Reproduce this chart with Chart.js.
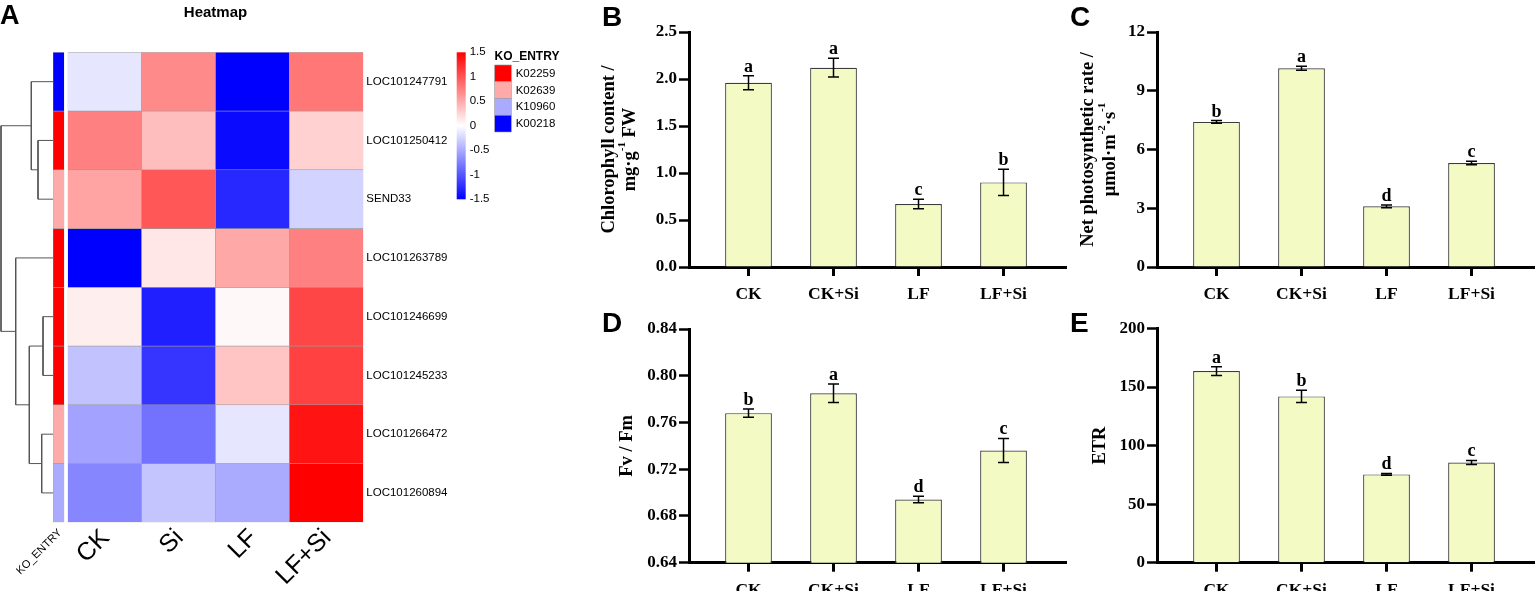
<!DOCTYPE html>
<html>
<head>
<meta charset="utf-8">
<script src="https://cdn.jsdelivr.net/npm/chart.js@4.4.1/dist/chart.umd.min.js"></script>
<style>
html, body { margin: 0; padding: 0; background: #fff; }
body { width: 1536px; height: 591px; position: relative; overflow: hidden; }
canvas { position: absolute; }
</style>
</head>
<body>
<canvas id="dendro" width="540" height="591" style="left:0;top:0"></canvas>
<canvas id="ko" width="540" height="591" style="left:0;top:0"></canvas>
<canvas id="heat" width="540" height="591" style="left:0;top:0"></canvas>
<canvas id="colorKey" width="560" height="591" style="left:0;top:0"></canvas>
<canvas id="chlB" width="530" height="300" style="left:540px;top:0"></canvas>
<canvas id="pnC" width="530" height="300" style="left:1006px;top:0"></canvas>
<canvas id="fvD" width="530" height="295" style="left:540px;top:296px"></canvas>
<canvas id="etrE" width="530" height="295" style="left:1006px;top:296px"></canvas>
<script>

// ---------- data ----------
const groups = ["CK", "CK+Si", "LF", "LF+Si"];

const chlorophyll = [1.96, 2.12, 0.67, 0.90];
const chlorophyllErr = [0.075, 0.10, 0.05, 0.14];
const chlorophyllSig = ["a", "a", "c", "b"];

const netPhoto = [7.41, 10.15, 3.10, 5.31];
const netPhotoErr = [0.07, 0.10, 0.07, 0.085];
const netPhotoSig = ["b", "a", "d", "c"];

const fvFm = [0.768, 0.785, 0.694, 0.736];
const fvFmErr = [0.0035, 0.008, 0.0028, 0.0103];
const fvFmSig = ["b", "a", "d", "c"];

const etr = [163.6, 142.0, 75.4, 85.6];
const etrErr = [3.7, 5.3, 0.8, 1.7];
const etrSig = ["a", "b", "d", "c"];

const heatCols = ["CK", "Si", "LF", "LF+Si"];
const genes = [
    "LOC101247791", "LOC101250412", "SEND33", "LOC101263789",
    "LOC101246699", "LOC101245233", "LOC101266472", "LOC101260894"
];
const heatValues = [
    [-0.15, 0.69, -1.50, 0.80],
    [0.75, 0.38, -1.44, 0.27],
    [0.54, 0.99, -1.27, -0.26],
    [-1.50, 0.14, 0.51, 0.75],
    [0.10, -1.32, 0.04, 1.09],
    [-0.36, -1.19, 0.35, 1.12],
    [-0.54, -0.83, -0.15, 1.39],
    [-0.71, -0.35, -0.50, 1.50]
];
const geneKo = ["K00218", "K02259", "K02639", "K02259", "K02259", "K02259", "K02639", "K10960"];
const koEntries = ["K02259", "K02639", "K10960", "K00218"];
const koColors = ["#FF0000", "#FFAAAA", "#AAAAFF", "#0000FF"];

// hclust style: negative = leaf (row order), positive = earlier merge
const dendroMerge = [[-2, -3], [-1, 1], [-5, -6], [-7, -8], [3, 4], [-4, 5], [2, 6]];
const dendroHeight = [15, 21.7, 10, 11.3, 23.7, 37.3, 52];

const colorTicks = [1.5, 1, 0.5, 0, -0.5, -1, -1.5];

// ---------- helpers ----------
const SANS = "\"Liberation Sans\", Arial, Helvetica, sans-serif";
const SERIF = "\"Liberation Serif\", \"Times New Roman\", serif";

Chart.defaults.animation = false;
Chart.defaults.events = [];
Chart.defaults.plugins.legend.display = false;
Chart.defaults.plugins.tooltip.enabled = false;
Chart.defaults.color = "#000";

function heatColor(v) {
    const t = Math.max(-1, Math.min(1, v / 1.5));
    if (t >= 0) {
        const c = Math.round(255 * (1 - t));
        return "rgb(255," + c + "," + c + ")";
    }
    const c = Math.round(255 * (1 + t));
    return "rgb(" + c + "," + c + ",255)";
}

function dendroLinks() {
    const nodeY = [];
    const nodeH = [];
    const pos = (id) => id < 0
        ? { y: -id - 0.5, h: 0 }
        : { y: nodeY[id - 1], h: nodeH[id - 1] };
    const links = [];
    dendroMerge.forEach(([a, b], i) => {
        const pa = pos(a);
        const pb = pos(b);
        const h = dendroHeight[i];
        links.push([
            { x: pa.h, y: pa.y },
            { x: h, y: pa.y },
            { x: h, y: pb.y },
            { x: pb.h, y: pb.y }
        ]);
        nodeY.push((pa.y + pb.y) / 2);
        nodeH.push(h);
    });
    return links;
}

function fixWidth(w) {
    return (scale) => { scale.width = w; };
}

function fixHeight(h) {
    return (scale) => { scale.height = h; };
}

// rotated column labels, end of text at the column centre
function rotatedLabels(labels, size, dx, y) {
    return {
        id: "rotLabels",
        afterDraw(chart) {
            const ctx = chart.ctx;
            const xs = chart.scales.x;
            ctx.save();
            ctx.fillStyle = "#000";
            ctx.font = size + "px " + SANS;
            ctx.textAlign = "right";
            ctx.textBaseline = "middle";
            labels.forEach((l, i) => {
                ctx.save();
                ctx.translate(xs.getPixelForValue(i) + dx, y);
                ctx.rotate(-Math.PI / 4);
                ctx.fillText(l, 0, 0);
                ctx.restore();
            });
            ctx.restore();
        }
    };
}

// ---------- A: dendrogram ----------
new Chart(document.getElementById("dendro"), {
    type: "scatter",
    data: {
        datasets: dendroLinks().map((pts) => ({
            data: pts,
            showLine: true,
            borderColor: "#555",
            borderWidth: 1,
            pointRadius: 0,
            clip: false
        }))
    },
    options: {
        responsive: false,
        layout: { padding: { left: 1, right: 487, top: 52.3, bottom: 68.7 } },
        scales: {
            x: { type: "linear", min: 0, max: 52, reverse: true, display: false },
            y: { type: "linear", min: 0, max: 8, reverse: true, display: false }
        }
    }
});

// ---------- A: KO_ENTRY annotation column ----------
new Chart(document.getElementById("ko"), {
    type: "bar",
    data: {
        labels: ["KO_ENTRY"],
        datasets: genes.map((g, r) => ({
            data: [[r, r + 1]],
            backgroundColor: koColors[koEntries.indexOf(geneKo[r])],
            borderColor: "#9a9a9a",
            borderWidth: 0.6,
            borderSkipped: false,
            grouped: false,
            barPercentage: 1,
            categoryPercentage: 1
        }))
    },
    options: {
        responsive: false,
        layout: { padding: { left: 53, right: 475.7, top: 52.3, bottom: 68.7 } },
        scales: {
            x: { display: false },
            y: { type: "linear", min: 0, max: 8, reverse: true, display: false }
        }
    },
    plugins: [rotatedLabels(["KO_ENTRY"], 11, 1.5, 531)]
});

// ---------- A: heatmap ----------
const heatTitle = {
    id: "heatTitle",
    afterDraw(chart) {
        const ctx = chart.ctx;
        ctx.save();
        ctx.fillStyle = "#000";
        ctx.textBaseline = "alphabetic";
        ctx.textAlign = "left";
        ctx.font = "bold 27px " + SANS;
        ctx.fillText("A", 0, 24);
        ctx.textAlign = "center";
        ctx.textBaseline = "middle";
        ctx.font = "bold 15px " + SANS;
        ctx.fillText("Heatmap", 215.5, 12.5);
        ctx.restore();
    }
};

new Chart(document.getElementById("heat"), {
    type: "bar",
    data: {
        labels: heatCols,
        datasets: genes.map((g, r) => ({
            label: g,
            data: heatCols.map(() => [r, r + 1]),
            backgroundColor: heatValues[r].map(heatColor),
            borderColor: "#9a9a9a",
            borderWidth: 0.6,
            borderSkipped: false,
            grouped: false,
            barPercentage: 1,
            categoryPercentage: 1
        }))
    },
    options: {
        responsive: false,
        layout: { padding: { left: 67.7, right: 0, top: 52.3, bottom: 68.7 } },
        scales: {
            x: { display: false },
            y: { type: "linear", min: 0, max: 8, reverse: true, display: false },
            yGene: {
                type: "category",
                labels: genes,
                position: "right",
                offset: true,
                grid: { display: false, drawTicks: false },
                border: { display: false },
                ticks: { padding: 3, font: { family: SANS, size: 11.5 } },
                afterFit: fixWidth(176.7)
            }
        }
    },
    plugins: [heatTitle, rotatedLabels(heatCols, 25, 1, 534)]
});

// ---------- A: colour key and KO legend ----------
const keyDraw = {
    id: "keyDraw",
    beforeDatasetsDraw(chart) {
        const ctx = chart.ctx;
        const a = chart.chartArea;
        const ys = chart.scales.y;
        const top = ys.getPixelForValue(colorTicks[0]);
        const bot = ys.getPixelForValue(colorTicks[colorTicks.length - 1]);
        const g = ctx.createLinearGradient(0, bot, 0, top);
        g.addColorStop(0, heatColor(colorTicks[colorTicks.length - 1]));
        g.addColorStop(0.5, heatColor(0));
        g.addColorStop(1, heatColor(colorTicks[0]));
        ctx.save();
        ctx.fillStyle = g;
        ctx.fillRect(a.left, top, a.right - a.left, bot - top);
        ctx.fillStyle = "#000";
        ctx.font = "11.5px " + SANS;
        ctx.textAlign = "left";
        ctx.textBaseline = "middle";
        colorTicks.forEach((v) => ctx.fillText(String(v), a.right + 4, ys.getPixelForValue(v)));
        ctx.restore();
    },
    afterDraw(chart) {
        const ctx = chart.ctx;
        ctx.save();
        ctx.fillStyle = "#000";
        ctx.textAlign = "left";
        ctx.textBaseline = "middle";
        ctx.font = "bold 12px " + SANS;
        ctx.fillText("KO_ENTRY", 494.5, 57);
        ctx.font = "11.5px " + SANS;
        koEntries.forEach((k, i) => {
            const y = 65 + i * 16.75;
            ctx.fillStyle = koColors[i];
            ctx.fillRect(494.7, y, 16.6, 16.75);
            ctx.strokeStyle = "#9a9a9a";
            ctx.lineWidth = 0.6;
            ctx.strokeRect(494.7, y, 16.6, 16.75);
            ctx.fillStyle = "#000";
            ctx.fillText(k, 515.7, y + 8.6);
        });
        ctx.restore();
    }
};

new Chart(document.getElementById("colorKey"), {
    type: "bar",
    data: {
        labels: ["key"],
        datasets: [{
            data: [[colorTicks[colorTicks.length - 1], colorTicks[0]]],
            backgroundColor: "rgba(0,0,0,0)",
            borderWidth: 0,
            barPercentage: 1,
            categoryPercentage: 1
        }]
    },
    options: {
        responsive: false,
        layout: { padding: { left: 456.7, right: 94.3, top: 52.3, bottom: 391.7 } },
        scales: {
            x: { display: false },
            y: { type: "linear", min: -1.5, max: 1.5, display: false }
        }
    },
    plugins: [keyDraw]
});

// ---------- B-E: bar panels ----------
function drawRich(ctx, parts, cx, cy, size) {
    const big = "bold " + size + "px " + SERIF;
    const small = "bold " + Math.round(size * 0.62) + "px " + SERIF;
    ctx.save();
    ctx.translate(cx, cy);
    ctx.rotate(-Math.PI / 2);
    ctx.textAlign = "left";
    ctx.textBaseline = "middle";
    let w = 0;
    parts.forEach((p) => {
        ctx.font = p.sup ? small : big;
        w += ctx.measureText(p.t).width;
    });
    let x = -w / 2;
    parts.forEach((p) => {
        ctx.font = p.sup ? small : big;
        ctx.fillText(p.t, x, p.sup ? -size * 0.4 : 0);
        x += ctx.measureText(p.t).width;
    });
    ctx.restore();
}

const barExtras = {
    id: "barExtras",
    afterDatasetsDraw(chart, args, o) {
        const ctx = chart.ctx;
        const ys = chart.scales.y;
        const meta = chart.getDatasetMeta(0);
        ctx.save();
        ctx.strokeStyle = "#000";
        ctx.lineWidth = 1.5;
        ctx.fillStyle = "#000";
        ctx.textAlign = "center";
        ctx.textBaseline = "alphabetic";
        ctx.font = "bold 18px " + SERIF;
        meta.data.forEach((bar, i) => {
            const top = ys.getPixelForValue(o.values[i] + o.errors[i]);
            const bot = ys.getPixelForValue(o.values[i] - o.errors[i]);
            ctx.beginPath();
            ctx.moveTo(bar.x, top);
            ctx.lineTo(bar.x, bot);
            ctx.moveTo(bar.x - 5.5, top);
            ctx.lineTo(bar.x + 5.5, top);
            ctx.moveTo(bar.x - 5.5, bot);
            ctx.lineTo(bar.x + 5.5, bot);
            ctx.stroke();
            ctx.fillText(o.letters[i], bar.x, top - 4);
        });
        ctx.restore();
    },
    afterDraw(chart, args, o) {
        const ctx = chart.ctx;
        const a = chart.chartArea;
        ctx.save();
        ctx.fillStyle = "#000";
        o.titles.forEach((t) => drawRich(ctx, t.parts, t.x, (a.top + a.bottom) / 2, 18.5));
        ctx.textAlign = "left";
        ctx.textBaseline = "alphabetic";
        ctx.font = "bold 28px " + SANS;
        ctx.fillText(o.panel, o.panelX, o.panelY);
        ctx.restore();
    }
};

function barPanel(id, cfg) {

    const canvas = document.getElementById(id);

    new Chart(canvas, {

        type: "bar",

        data: {
            datasets: [{
                data: cfg.values.map((v, i) => ({ x: i, y: v })),
                backgroundColor: "#F3FAC3",
                borderColor: "#3c3c3c",
                borderWidth: 1.2,
                barPercentage: 0.55,
                categoryPercentage: 1
            }]
        },

        options: {
            responsive: false,
            layout: {
                padding: { left: 0, right: canvas.width - cfg.area.right, top: cfg.area.top, bottom: 0 }
            },
            plugins: {
                barExtras: {
                    values: cfg.values,
                    errors: cfg.errors,
                    letters: cfg.letters,
                    titles: cfg.titles,
                    panel: cfg.panel,
                    panelX: cfg.panelX,
                    panelY: cfg.panelY
                }
            },
            scales: {
                x: {
                    type: "linear",
                    min: -0.7,
                    max: 3.735,
                    offset: false,
                    grid: {
                        offset: false,
                        drawOnChartArea: false,
                        tickLength: 9,
                        tickWidth: 3,
                        tickColor: "#000"
                    },
                    border: { width: 3, color: "#000" },
                    afterBuildTicks: (scale) => {
                        scale.ticks = groups.map((g, i) => ({ value: i }));
                    },
                    ticks: {
                        padding: 8,
                        font: { family: SERIF, size: 17.5, weight: "bold" },
                        callback: (v) => groups[v]
                    },
                    afterFit: fixHeight(canvas.height - cfg.area.bottom)
                },
                y: {
                    type: "linear",
                    min: cfg.min,
                    max: cfg.max,
                    grid: {
                        drawOnChartArea: false,
                        tickLength: 10,
                        tickWidth: 2.5,
                        tickColor: "#000"
                    },
                    border: { width: 3, color: "#000" },
                    afterBuildTicks: (scale) => {
                        const t = [];
                        for (let v = cfg.min; v <= cfg.max + cfg.step / 2; v += cfg.step) {
                            t.push({ value: +v.toFixed(6) });
                        }
                        scale.ticks = t;
                    },
                    ticks: {
                        padding: 2,
                        font: { family: SERIF, size: 17, weight: "bold" },
                        callback: (v) => v.toFixed(cfg.decimals)
                    },
                    afterFit: fixWidth(cfg.area.left)
                }
            }
        },

        plugins: [barExtras]
    });
}

barPanel("chlB", {
    values: chlorophyll, errors: chlorophyllErr, letters: chlorophyllSig,
    min: 0, max: 2.5, step: 0.5, decimals: 1,
    area: { left: 149, right: 526, top: 32, bottom: 267 },
    titles: [
        { x: 69, parts: [{ t: "Chlorophyll content /" }] },
        { x: 90, parts: [{ t: "mg·g" }, { t: "-1", sup: true }, { t: " FW" }] }
    ],
    panel: "B", panelX: 62, panelY: 26
});

barPanel("pnC", {
    values: netPhoto, errors: netPhotoErr, letters: netPhotoSig,
    min: 0, max: 12, step: 3, decimals: 0,
    area: { left: 151, right: 528, top: 32, bottom: 267 },
    titles: [
        { x: 82, parts: [{ t: "Net photosynthetic rate /" }] },
        { x: 104, parts: [{ t: "μmol·m" }, { t: "-2", sup: true }, { t: "·s" }, { t: "-1", sup: true }] }
    ],
    panel: "C", panelX: 64, panelY: 26
});

barPanel("fvD", {
    values: fvFm, errors: fvFmErr, letters: fvFmSig,
    min: 0.64, max: 0.84, step: 0.04, decimals: 2,
    area: { left: 149, right: 526, top: 33, bottom: 266.7 },
    titles: [
        { x: 87, parts: [{ t: "Fv / Fm" }] }
    ],
    panel: "D", panelX: 62, panelY: 36
});

barPanel("etrE", {
    values: etr, errors: etrErr, letters: etrSig,
    min: 0, max: 200, step: 50, decimals: 0,
    area: { left: 151, right: 528, top: 32.5, bottom: 266.7 },
    titles: [
        { x: 94, parts: [{ t: "ETR" }] }
    ],
    panel: "E", panelX: 64, panelY: 36
});

</script>
</body>
</html>
